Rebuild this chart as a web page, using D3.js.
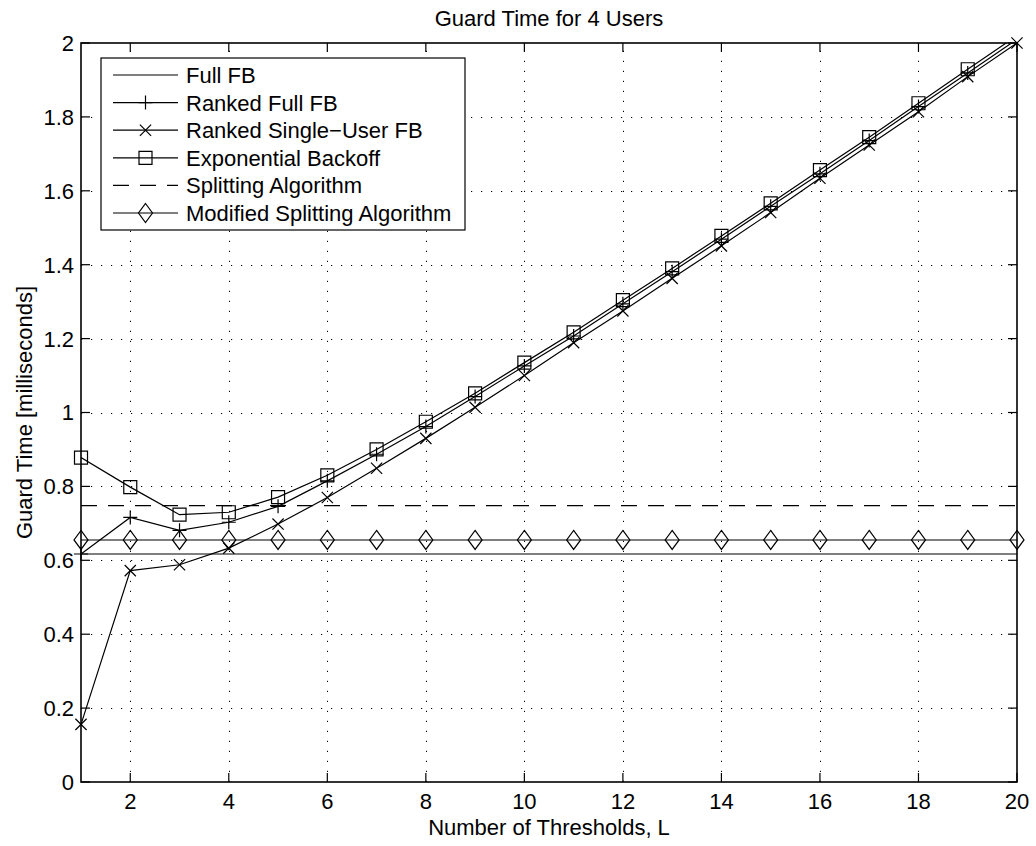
<!DOCTYPE html>
<html lang="en">
<head>
<meta charset="UTF-8">
<title>Guard Time for 4 Users</title>
<style>
  body { margin: 0; background: #fff; }
  svg text { font-family: "Liberation Sans", Arial, sans-serif; fill: #000; }
</style>
</head>
<body>
<div id="chart"></div>
<script src="https://cdnjs.cloudflare.com/ajax/libs/d3/7.8.5/d3.min.js"></script>
<script>
  // data
  var thresholds = [1, 2, 3, 4, 5, 6, 7, 8, 9, 10, 11, 12, 13, 14, 15, 16, 17, 18, 19, 20];
  var fullFB = [0.617, 0.617, 0.617, 0.617, 0.617, 0.617, 0.617, 0.617, 0.617, 0.617,
                0.617, 0.617, 0.617, 0.617, 0.617, 0.617, 0.617, 0.617, 0.617, 0.617];
  var rankedFullFB = [0.617, 0.716, 0.681, 0.703, 0.746, 0.815, 0.887, 0.962, 1.043, 1.126,
                      1.207, 1.294, 1.381, 1.469, 1.558, 1.646, 1.736, 1.828, 1.919, 2.01];
  var rankedSingleFB = [0.156, 0.572, 0.588, 0.633, 0.698, 0.770, 0.849, 0.930, 1.014, 1.100,
                        1.189, 1.275, 1.363, 1.451, 1.541, 1.634, 1.724, 1.814, 1.909, 2.0];
  var expBackoff = [0.878, 0.798, 0.7235, 0.730, 0.771, 0.830, 0.900, 0.975, 1.052, 1.135,
                    1.217, 1.304, 1.390, 1.478, 1.566, 1.656, 1.745, 1.837, 1.929, 2.02];
  var splitting = [0.748, 0.748, 0.748, 0.748, 0.748, 0.748, 0.748, 0.748, 0.748, 0.748,
                   0.748, 0.748, 0.748, 0.748, 0.748, 0.748, 0.748, 0.748, 0.748, 0.748];
  var modSplitting = [0.655, 0.655, 0.655, 0.655, 0.655, 0.655, 0.655, 0.655, 0.655, 0.655,
                      0.655, 0.655, 0.655, 0.655, 0.655, 0.655, 0.655, 0.655, 0.655, 0.655];
  var xTicks = [2, 4, 6, 8, 10, 12, 14, 16, 18, 20];
  var yTicks = [0, 0.2, 0.4, 0.6, 0.8, 1, 1.2, 1.4, 1.6, 1.8, 2];

  var series = [
    { name: "Full FB", values: fullFB, marker: "none", dash: null },
    { name: "Ranked Full FB", values: rankedFullFB, marker: "plus", dash: null },
    { name: "Ranked Single\u2212User FB", values: rankedSingleFB, marker: "cross", dash: null },
    { name: "Exponential Backoff", values: expBackoff, marker: "square", dash: null },
    { name: "Splitting Algorithm", values: splitting, marker: "none", dash: "16,11" },
    { name: "Modified Splitting Algorithm", values: modSplitting, marker: "diamond", dash: null }
  ];

  var width = 1036, height = 846;
  var pLeft = 81, pRight = 1017, pTop = 43, pBottom = 782;
  var fs = 22;

  var svg = d3.select("#chart").append("svg")
    .attr("width", width)
    .attr("height", height);

  var x = d3.scaleLinear().domain([1, 20]).range([pLeft, pRight]);
  var y = d3.scaleLinear().domain([0, 2]).range([pBottom, pTop]);

  svg.append("clipPath").attr("id", "plotclip")
    .append("rect")
    .attr("x", pLeft).attr("y", pTop)
    .attr("width", pRight - pLeft).attr("height", pBottom - pTop);

  // dotted grid
  var grid = svg.append("g")
    .attr("stroke", "#000")
    .attr("stroke-width", 1)
    .attr("stroke-dasharray", "1.2,8.8");
  grid.selectAll("line.vx")
    .data(xTicks.filter(function(d) { return d < 20; }))
    .enter().append("line")
    .attr("x1", function(d) { return Math.round(x(d)) + 0.5; })
    .attr("x2", function(d) { return Math.round(x(d)) + 0.5; })
    .attr("y1", pBottom).attr("y2", pTop);
  grid.selectAll("line.hy")
    .data(yTicks.filter(function(d) { return d > 0 && d < 2; }))
    .enter().append("line")
    .attr("y1", function(d) { return Math.round(y(d)) + 0.5; })
    .attr("y2", function(d) { return Math.round(y(d)) + 0.5; })
    .attr("x1", pLeft).attr("x2", pRight);

  // markers
  function markerPath(type, s) {
    if (type === "plus") return "M" + (-s) + ",0H" + s + "M0," + (-s) + "V" + s;
    if (type === "cross") { var c = s * 0.8; return "M" + (-c) + "," + (-c) + "L" + c + "," + c + "M" + (-c) + "," + c + "L" + c + "," + (-c); }
    if (type === "square") return "M-6.5,-6.5H6.5V6.5H-6.5Z";
    if (type === "diamond") return "M0,-9.5L7,0L0,9.5L-7,0Z";
    return "";
  }

  var line = d3.line()
    .x(function(d, i) { return x(thresholds[i]); })
    .y(function(d) { return y(d); });

  var plot = svg.append("g").attr("clip-path", "url(#plotclip)");

  series.forEach(function(s) {
    plot.append("path")
      .attr("d", line(s.values))
      .attr("fill", "none")
      .attr("stroke", "#000")
      .attr("stroke-width", 1.2)
      .attr("stroke-dasharray", s.dash);
    if (s.marker !== "none") {
      var pts = s.values.map(function(v, i) { return [thresholds[i], v]; })
        .filter(function(p) { return p[1] <= 2; });
      svg.append("g").selectAll("path")
        .data(pts)
        .enter().append("path")
        .attr("transform", function(p) { return "translate(" + x(p[0]) + "," + y(p[1]) + ")"; })
        .attr("d", markerPath(s.marker, 7))
        .attr("fill", "none")
        .attr("stroke", "#000")
        .attr("stroke-width", 1.2);
    }
  });

  // axes box and ticks
  var ax = svg.append("g").attr("stroke", "#000").attr("stroke-width", 1.2);
  ax.append("rect")
    .attr("x", pLeft).attr("y", pTop)
    .attr("width", pRight - pLeft).attr("height", pBottom - pTop)
    .attr("fill", "none")
    .attr("stroke-width", 1.6);
  var tl = 9;
  xTicks.forEach(function(t) {
    ax.append("line").attr("x1", x(t)).attr("x2", x(t)).attr("y1", pBottom).attr("y2", pBottom - tl);
    ax.append("line").attr("x1", x(t)).attr("x2", x(t)).attr("y1", pTop).attr("y2", pTop + tl);
  });
  yTicks.forEach(function(t) {
    ax.append("line").attr("y1", y(t)).attr("y2", y(t)).attr("x1", pLeft).attr("x2", pLeft + tl);
    ax.append("line").attr("y1", y(t)).attr("y2", y(t)).attr("x1", pRight).attr("x2", pRight - tl);
  });

  svg.append("g").selectAll("text")
    .data(xTicks)
    .enter().append("text")
    .attr("x", function(d) { return x(d); })
    .attr("y", 809)
    .attr("text-anchor", "middle")
    .attr("font-size", fs)
    .text(function(d) { return d; });

  svg.append("g").selectAll("text")
    .data(yTicks)
    .enter().append("text")
    .attr("x", 74)
    .attr("y", function(d) { return y(d); })
    .attr("dy", "0.36em")
    .attr("text-anchor", "end")
    .attr("font-size", fs)
    .text(function(d) { return d; });

  // titles
  svg.append("text")
    .attr("x", (pLeft + pRight) / 2).attr("y", 26)
    .attr("text-anchor", "middle").attr("font-size", fs)
    .text("Guard Time for 4 Users");
  svg.append("text")
    .attr("x", (pLeft + pRight) / 2).attr("y", 835)
    .attr("text-anchor", "middle").attr("font-size", fs)
    .text("Number of Thresholds, L");
  svg.append("text")
    .attr("transform", "translate(32," + ((pTop + pBottom) / 2) + ") rotate(-90)")
    .attr("text-anchor", "middle").attr("font-size", fs)
    .text("Guard Time [milliseconds]");

  // legend
  var lg = svg.append("g");
  lg.append("rect")
    .attr("x", 101).attr("y", 58)
    .attr("width", 364).attr("height", 172)
    .attr("fill", "#fff").attr("stroke", "#000").attr("stroke-width", 1.2);
  var rowY = d3.scaleLinear().domain([0, 5]).range([75, 213]);
  series.forEach(function(s, i) {
    var yy = rowY(i);
    lg.append("line")
      .attr("x1", 113).attr("x2", 178).attr("y1", yy).attr("y2", yy)
      .attr("stroke", "#000").attr("stroke-width", 1.2)
      .attr("stroke-dasharray", s.dash);
    if (s.marker !== "none") {
      lg.append("path")
        .attr("transform", "translate(145.5," + yy + ")")
        .attr("d", markerPath(s.marker, 7))
        .attr("fill", "none").attr("stroke", "#000").attr("stroke-width", 1.2);
    }
    lg.append("text")
      .attr("x", 186).attr("y", yy).attr("dy", "0.36em")
      .attr("font-size", 22)
      .text(s.name);
  });
</script>
</body>
</html>
